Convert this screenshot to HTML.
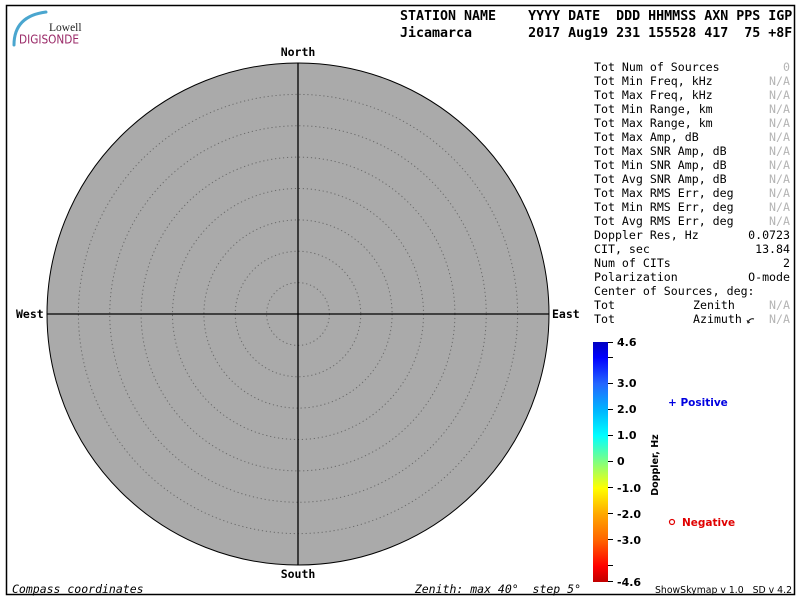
<!DOCTYPE html>
<html><head><meta charset="utf-8"><style>
html,body{margin:0;padding:0;background:#fff;}
svg{display:block;}
.m{font-family:"DejaVu Sans Mono","Liberation Mono",monospace;}
.p{font-family:"DejaVu Sans Mono","Liberation Mono",monospace;font-size:11.6px;fill:#000;}
.g{fill:#b4b4b4;}
.hb{font-family:"DejaVu Sans Mono","Liberation Mono",monospace;font-weight:bold;font-size:13.3px;white-space:pre;}
.dir{font-family:"DejaVu Sans Mono","Liberation Mono",monospace;font-weight:bold;font-size:11.5px;}
.cb{font-family:"DejaVu Sans","Liberation Sans",sans-serif;font-weight:bold;font-size:11px;}
</style></head><body>
<svg width="800" height="600" viewBox="0 0 800 600" xmlns="http://www.w3.org/2000/svg">
<defs>
<linearGradient id="cg" x1="0" y1="0" x2="0" y2="1">
<stop offset="0" stop-color="#0000c0"/>
<stop offset="0.065" stop-color="#0000ff"/>
<stop offset="0.174" stop-color="#2466ff"/>
<stop offset="0.283" stop-color="#00b4ff"/>
<stop offset="0.391" stop-color="#00ffff"/>
<stop offset="0.5" stop-color="#80ff80"/>
<stop offset="0.609" stop-color="#ffff00"/>
<stop offset="0.717" stop-color="#ffa800"/>
<stop offset="0.826" stop-color="#ff6400"/>
<stop offset="0.935" stop-color="#ff0000"/>
<stop offset="1" stop-color="#c00000"/>
</linearGradient>
</defs>
<rect x="0" y="0" width="800" height="600" fill="#fff"/>
<rect x="6.5" y="5.5" width="788" height="589" fill="none" stroke="#000" stroke-width="1.5"/>

<!-- logo -->
<path d="M14,45 Q14,16 46,12" fill="none" stroke="#4aa6cf" stroke-width="3" stroke-linecap="round"/>
<text x="49" y="31" font-family="Liberation Serif, serif" font-size="11.5" fill="#222">Lowell</text>
<text x="19" y="43.5" font-family="DejaVu Sans, Liberation Sans, sans-serif" font-size="12" fill="#9a2a68" textLength="60" lengthAdjust="spacingAndGlyphs">DIGISONDE</text>

<!-- header -->
<text x="400" y="20" class="hb">STATION NAME    YYYY DATE  DDD HHMMSS AXN PPS IGP</text>
<text x="400" y="37" class="hb">Jicamarca       2017 Aug19 231 155528 417  75 +8F</text>

<!-- skymap -->
<circle cx="298" cy="314" r="251" fill="#aaaaaa" stroke="#000" stroke-width="1"/>
<g fill="none" stroke="#6a6a6a" stroke-width="1" stroke-dasharray="1.2 2.8">
<circle cx="298" cy="314" r="31.4"/>
<circle cx="298" cy="314" r="62.75"/>
<circle cx="298" cy="314" r="94.1"/>
<circle cx="298" cy="314" r="125.5"/>
<circle cx="298" cy="314" r="156.9"/>
<circle cx="298" cy="314" r="188.25"/>
<circle cx="298" cy="314" r="219.6"/>
</g>
<line x1="298" y1="63" x2="298" y2="565" stroke="#000" stroke-width="1.3"/>
<line x1="47" y1="314" x2="549" y2="314" stroke="#000" stroke-width="1.3"/>
<text x="298" y="56" class="dir" text-anchor="middle">North</text>
<text x="298" y="578" class="dir" text-anchor="middle">South</text>
<text x="16" y="318" class="dir">West</text>
<text x="552" y="318" class="dir">East</text>

<text x="12" y="593" class="m" font-style="italic" font-size="11.5">Compass coordinates</text>
<text x="581" y="593" class="m" font-style="italic" font-size="11.5" text-anchor="end" style="white-space:pre">Zenith: max 40°  step 5°</text>

<!-- panel -->
<g class="p">
<text x="594" y="71">Tot Num of Sources</text><text x="790" y="71" text-anchor="end" class="g">0</text>
<text x="594" y="85">Tot Min Freq, kHz</text><text x="790" y="85" text-anchor="end" class="g">N/A</text>
<text x="594" y="99">Tot Max Freq, kHz</text><text x="790" y="99" text-anchor="end" class="g">N/A</text>
<text x="594" y="113">Tot Min Range, km</text><text x="790" y="113" text-anchor="end" class="g">N/A</text>
<text x="594" y="127">Tot Max Range, km</text><text x="790" y="127" text-anchor="end" class="g">N/A</text>
<text x="594" y="141">Tot Max Amp, dB</text><text x="790" y="141" text-anchor="end" class="g">N/A</text>
<text x="594" y="155">Tot Max SNR Amp, dB</text><text x="790" y="155" text-anchor="end" class="g">N/A</text>
<text x="594" y="169">Tot Min SNR Amp, dB</text><text x="790" y="169" text-anchor="end" class="g">N/A</text>
<text x="594" y="183">Tot Avg SNR Amp, dB</text><text x="790" y="183" text-anchor="end" class="g">N/A</text>
<text x="594" y="197">Tot Max RMS Err, deg</text><text x="790" y="197" text-anchor="end" class="g">N/A</text>
<text x="594" y="211">Tot Min RMS Err, deg</text><text x="790" y="211" text-anchor="end" class="g">N/A</text>
<text x="594" y="225">Tot Avg RMS Err, deg</text><text x="790" y="225" text-anchor="end" class="g">N/A</text>
<text x="594" y="239">Doppler Res, Hz</text><text x="790" y="239" text-anchor="end">0.0723</text>
<text x="594" y="253">CIT, sec</text><text x="790" y="253" text-anchor="end">13.84</text>
<text x="594" y="267">Num of CITs</text><text x="790" y="267" text-anchor="end">2</text>
<text x="594" y="281">Polarization</text><text x="790" y="281" text-anchor="end">O-mode</text>
<text x="594" y="295">Center of Sources, deg:</text>
<text x="594" y="309">Tot</text><text x="693" y="309">Zenith</text><text x="790" y="309" text-anchor="end" class="g">N/A</text>
<text x="594" y="323">Tot</text><text x="693" y="323">Azimuth</text><text x="790" y="323" text-anchor="end" class="g">N/A</text>
</g>
<path d="M748,322 q2,-4 6,-3" fill="none" stroke="#000" stroke-width="1"/>
<path d="M747,320 l1,3 l2,-1" fill="none" stroke="#000" stroke-width="0.8"/>

<!-- colorbar -->
<rect x="593" y="342" width="15" height="240" fill="url(#cg)"/>
<g stroke="#000" stroke-width="1">
<line x1="608" y1="342.5" x2="613" y2="342.5"/>
<line x1="608" y1="357.5" x2="613" y2="357.5"/>
<line x1="608" y1="383.5" x2="613" y2="383.5"/>
<line x1="608" y1="409.5" x2="613" y2="409.5"/>
<line x1="608" y1="435.5" x2="613" y2="435.5"/>
<line x1="608" y1="461.5" x2="613" y2="461.5"/>
<line x1="608" y1="487.5" x2="613" y2="487.5"/>
<line x1="608" y1="513.5" x2="613" y2="513.5"/>
<line x1="608" y1="539.5" x2="613" y2="539.5"/>
<line x1="608" y1="565.5" x2="613" y2="565.5"/>
<line x1="608" y1="581.5" x2="613" y2="581.5"/>
</g>
<g class="cb">
<text x="617" y="346">4.6</text>
<text x="617" y="387">3.0</text>
<text x="617" y="413">2.0</text>
<text x="617" y="439">1.0</text>
<text x="617" y="465">0</text>
<text x="617" y="492">-1.0</text>
<text x="617" y="518">-2.0</text>
<text x="617" y="544">-3.0</text>
<text x="617" y="586">-4.6</text>
</g>
<text transform="translate(658,465) rotate(-90)" text-anchor="middle" font-family="DejaVu Sans, Liberation Sans, sans-serif" font-weight="bold" font-size="9.5">Doppler, Hz</text>

<text x="668" y="406" font-family="DejaVu Sans, Liberation Sans, sans-serif" font-weight="bold" font-size="10.5" fill="#0000e0" style="white-space:pre">+ Positive</text>
<circle cx="672" cy="522" r="2.5" fill="none" stroke="#e00000" stroke-width="1.2"/>
<text x="682" y="526" font-family="DejaVu Sans, Liberation Sans, sans-serif" font-weight="bold" font-size="10.5" fill="#e00000">Negative</text>

<text x="655" y="593" font-family="DejaVu Sans, Liberation Sans, sans-serif" font-size="9.5" textLength="137" lengthAdjust="spacingAndGlyphs" style="white-space:pre">ShowSkymap v 1.0   SD v 4.2</text>
</svg>
</body></html>
